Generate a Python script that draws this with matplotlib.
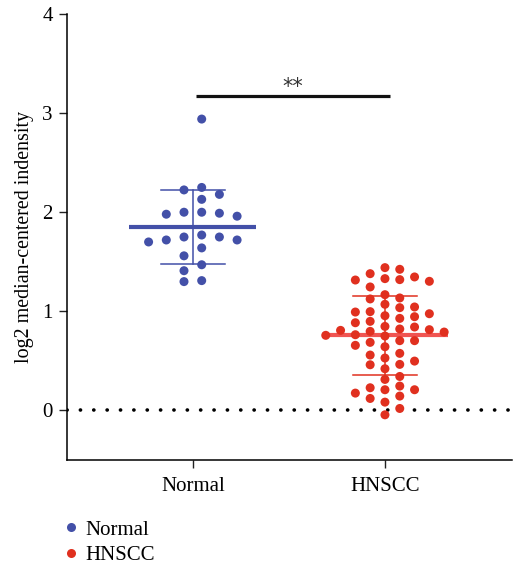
import numpy as np
import matplotlib
matplotlib.use('Agg')
import matplotlib.pyplot as plt
from matplotlib.lines import Line2D

plt.rcParams['font.family'] = ['Liberation Serif', 'DejaVu Serif']

groups = ['Normal', 'HNSCC']
colors = ['#4350A8', '#E0301F']
mean_colors = ['#4350A8', '#F05552']

normal_vals = [2.94, 2.25, 2.225, 2.18, 2.13, 2.00, 1.99, 2.00, 1.96, 1.98,
               1.70, 1.72, 1.77, 1.75, 1.72, 1.75, 1.64, 1.56, 1.47, 1.41,
               1.30, 1.31]
hnscc_vals = [0.791,
              1.320, 0.946, 0.842,
              1.330, 1.168, 1.044, 0.885, 0.764, 0.643, 0.529, 0.246, 0.145,
              1.347, 1.246, 1.125, 0.997, 0.808, 0.687, 0.559, 0.461, 0.313,
              0.175, -0.044,
              1.424, 1.303, 0.993, 0.899, 0.798, 0.704, 0.576, 0.465, 0.343,
              0.209, 0.084,
              1.441, 1.316, 1.135, 0.976, 0.822, 0.704, 0.421, 0.229, 0.121,
              0.020,
              1.071, 0.956, 0.848, 0.751, 0.657, 0.498, 0.209,
              1.380, 1.037, 0.929, 0.815,
              0.758]
values = [normal_vals, hnscc_vals]
yticks = [0, 1, 2, 3, 4]
sig_label = '**'
sig_y = 3.17

# swarm layout settings (pixel spacing between columns, half-step grid or not)
slot_px = [17.7, 14.8]
half_step = [True, False]
min_gap_px = 9.6


def swarm_offsets(vals, slot, half, ppu_x, ppu_y):
    # greedy grid swarm: each point goes to the free column nearest the centre
    order = np.argsort(vals)[::-1]
    cols = {}
    offs = np.zeros(len(vals))
    if half:
        cands = [s * 0.5 for k in range(12) for s in (2 * k + 1, -(2 * k + 1))]
    else:
        cands = [0] + [s for k in range(1, 12) for s in (k, -k)]
    for i in order:
        y = vals[i] * ppu_y
        for c in cands:
            taken = cols.setdefault(c, [])
            if all(abs(y - t) >= min_gap_px for t in taken):
                taken.append(y)
                offs[i] = c * slot / ppu_x
                break
    return offs


fig = plt.figure(figsize=(5.14, 5.67), dpi=100)
ax = fig.add_axes([0.130, 0.1887, 0.866, 0.7866])
ax.set_xlim(-0.656, 1.661)
ax.set_ylim(-0.5, 4)

fig.canvas.draw()
p0 = ax.transData.transform((0, 0))
p1 = ax.transData.transform((1, 1))
ppu_x, ppu_y = p1 - p0

for gi, vals in enumerate(values):
    vals = np.array(vals)
    offs = swarm_offsets(vals, slot_px[gi], half_step[gi], ppu_x, ppu_y)
    ax.scatter(gi + offs, vals, s=42, color=colors[gi], edgecolors='none', zorder=3)
    m = vals.mean()
    sd = vals.std(ddof=1)
    ax.plot([gi - 0.33, gi + 0.33], [m, m], color=mean_colors[gi], lw=3, zorder=2,
            solid_capstyle='butt')
    ax.plot([gi, gi], [m - sd, m + sd], color=colors[gi], lw=1.1, zorder=2)
    for yy in (m - sd, m + sd):
        ax.plot([gi - 0.167, gi + 0.167], [yy, yy], color=colors[gi], lw=1.1, zorder=2)

# zero line
ax.plot([-0.656, 1.661], [0, 0], color='black', lw=2.6,
        linestyle=(0, (0.05, 3.65)), dash_capstyle='round', zorder=1)

# significance bar
ax.plot([0.016, 1.026], [sig_y, sig_y], color='#111111', lw=2.3, solid_capstyle='butt')
ax.text(0.52, sig_y - 0.01, sig_label, ha='center', va='bottom', fontsize=15,
        family='DejaVu Sans', color='#333333')

ax.set_xticks([0, 1])
ax.set_xticklabels(groups, fontsize=15)
ax.set_yticks(yticks)
ax.set_yticklabels([str(t) for t in yticks], fontsize=15)
ax.tick_params(axis='both', length=6, width=1, color='#222222')
ax.tick_params(axis='x', pad=6)
ax.tick_params(axis='y', pad=4)
ax.set_ylabel('log2 median-centered indensity', fontsize=14.4, labelpad=6)
for side in ('top', 'right'):
    ax.spines[side].set_visible(False)
for side in ('left', 'bottom'):
    ax.spines[side].set_linewidth(1.1)

handles = [Line2D([], [], marker='o', linestyle='none', markersize=6.5,
                  markerfacecolor=c, markeredgecolor='none') for c in colors]
fig.legend(handles, groups, loc='upper left', bbox_to_anchor=(0.121, 0.083),
           frameon=False, fontsize=15, handlelength=0.8, handletextpad=0.3,
           labelspacing=0.3, borderaxespad=0, borderpad=0)

fig.savefig('out.png', dpi=100)
